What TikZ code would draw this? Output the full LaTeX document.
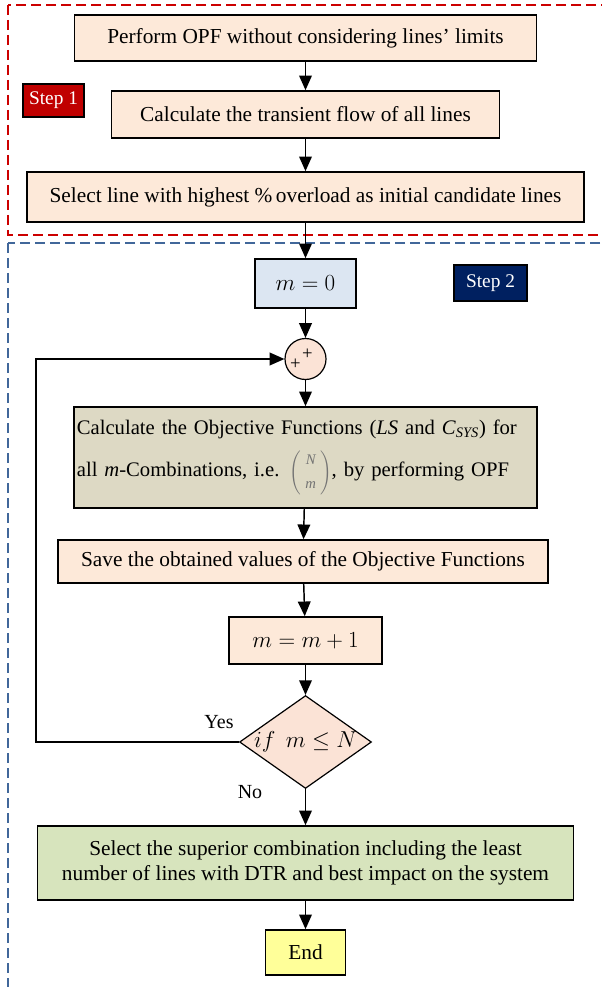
\documentclass[tikz,border=0pt]{standalone}
\usepackage{amsmath,amssymb}
\usepackage{fontspec}
\setmainfont{Liberation Serif}
\usepackage{xcolor}
\definecolor{clPeach}{HTML}{FDE9D9}
\definecolor{clDiamond}{HTML}{FBE3D6}
\definecolor{clStart}{HTML}{DCE6F2}
\definecolor{clObjective}{HTML}{DDD9C4}
\definecolor{clSelect}{HTML}{D7E4BD}
\definecolor{clEnd}{HTML}{FFFF99}
\definecolor{clStepOne}{HTML}{C00000}
\definecolor{clStepTwo}{HTML}{002060}
\definecolor{clFrameOne}{HTML}{CC0000}
\definecolor{clFrameTwo}{HTML}{41679A}
\usepackage{tikz}
\usetikzlibrary{arrows.meta,shapes.geometric}
\tikzset{
  box/.style={rectangle, draw=black, line width=1.2pt, align=center,
              inner sep=2pt, fill=clPeach, text=black,
              font=\fontsize{16}{19}\selectfont},
  startbox/.style={box, fill=clStart},
  objbox/.style={box, fill=clObjective, align=left, font=\fontsize{15.5}{19}\selectfont},
  selbox/.style={box, fill=clSelect},
  endbox/.style={box, fill=clEnd},
  steplabel/.style={rectangle, draw=black, line width=1pt, text=white,
                    inner sep=1pt, font=\fontsize{14.5}{17}\selectfont},
  sumnode/.style={circle, draw=black, line width=0.9pt, fill=clDiamond,
                  inner sep=0pt, minimum size=30.75pt},
  decision/.style={diamond, aspect=1.42, draw=black, line width=0.9pt, fill=clDiamond,
                   inner sep=0pt, font=\fontsize{16}{19}\selectfont},
  frame/.style={dash pattern=on 7.5pt off 3.75pt, line width=1.5pt},
  flow/.style={-{Triangle[length=11pt,width=9.5pt]}, line width=1.1pt, draw=black},
  branchlabel/.style={font=\fontsize{15}{18}\selectfont, inner sep=1pt},
}
\newcommand{\choosecount}{{\color{black!55}\fontsize{11}{14}\selectfont
  $\left(\begin{array}{@{\;}c@{\;}}\textit{N}\\[4pt]\textit{m}\end{array}\right)$}}

\begin{document}
\begin{tikzpicture}[x=0.75pt,y=-0.75pt]
  \useasboundingbox (0,0) rectangle (602,987);
  \clip (0,0) rectangle (602,987);
  % step frames
  \draw[frame, draw=clFrameOne] (8,5) rectangle (612,235);
  \draw[frame, draw=clFrameTwo] (8,243) rectangle (612,1000);
  % step 1
  \node[box, minimum width=346.5pt, minimum height=34.5pt] (perform) at (305.5,38)
    {Perform OPF without considering lines’ limits};
  \node[box, minimum width=291pt, minimum height=35.25pt] (transient) at (305.5,114.5)
    {Calculate the transient flow of all lines};
  \node[box, minimum width=417.75pt, minimum height=37.5pt] (candidate) at (305.5,197)
    {Select line with highest \%\,overload as initial candidate lines};
  \node[steplabel, fill=clStepOne, minimum width=45.75pt, minimum height=24.75pt] (stepone) at (53.5,100.5) {Step 1};
  % step 2
  \node[startbox, minimum width=75.75pt, minimum height=36.75pt] (mzero) at (305.5,283.5) {$m = 0$};
  \node[steplabel, fill=clStepTwo, minimum width=54.75pt, minimum height=27pt] (steptwo) at (490.5,283) {Step 2};
  \node[sumnode] (sum) at (305.5,359) {};
  \node[font=\fontsize{14}{14}\selectfont, inner sep=0pt] (plusa) at (307.5,354) {+};
  \node[font=\fontsize{14}{14}\selectfont, inner sep=0pt] (plusb) at (295.5,364.5) {+};
  \node[objbox, text width=343pt, minimum height=75.75pt] (objective) at (305.5,457.5)
    {Calculate the Objective Functions (\textit{LS} and \textit{C}\textsubscript{\textit{SYS}}) for\\[8pt]
     all \textit{m}-Combinations, i.e. \choosecount, by performing OPF};
  \node[box, minimum width=367.5pt, minimum height=32.25pt] (save) at (303,561.5)
    {Save the obtained values of the Objective Functions};
  \node[box, minimum width=114.75pt, minimum height=35.25pt] (mplus) at (305.5,640.5) {$m = m + 1$};
  \node[decision, minimum width=98.25pt, minimum height=69pt] (check) at (305.5,742) {$if~~m \leq N$};
  \node[selbox, minimum width=402pt, minimum height=55.5pt] (superior) at (305.5,863)
    {Select the superior combination including the least\\number of lines with DTR and best impact on the system};
  \node[endbox, minimum width=60pt, minimum height=33.75pt] (finish) at (305.5,952.5) {End};
  \node[branchlabel] (yes) at (219,722) {Yes};
  \node[branchlabel] (no) at (250,792) {No};
  \coordinate (loopcorner) at (36,742);
  % connectors
  \draw[flow] (perform) -- (transient);
  \draw[flow] (transient) -- (candidate);
  \draw[flow] (candidate) -- (mzero);
  \draw[flow] (mzero) -- (sum);
  \draw[flow] (sum) -- (objective);
  \draw[flow] (objective) -- (save);
  \draw[flow] (save) -- (mplus);
  \draw[flow] (mplus) -- (check);
  \draw[flow] (check) -- (superior);
  \draw[flow] (superior) -- (finish);
  \draw[flow] (check.west) -- (loopcorner) |- (sum.west);
\end{tikzpicture}
\end{document}
